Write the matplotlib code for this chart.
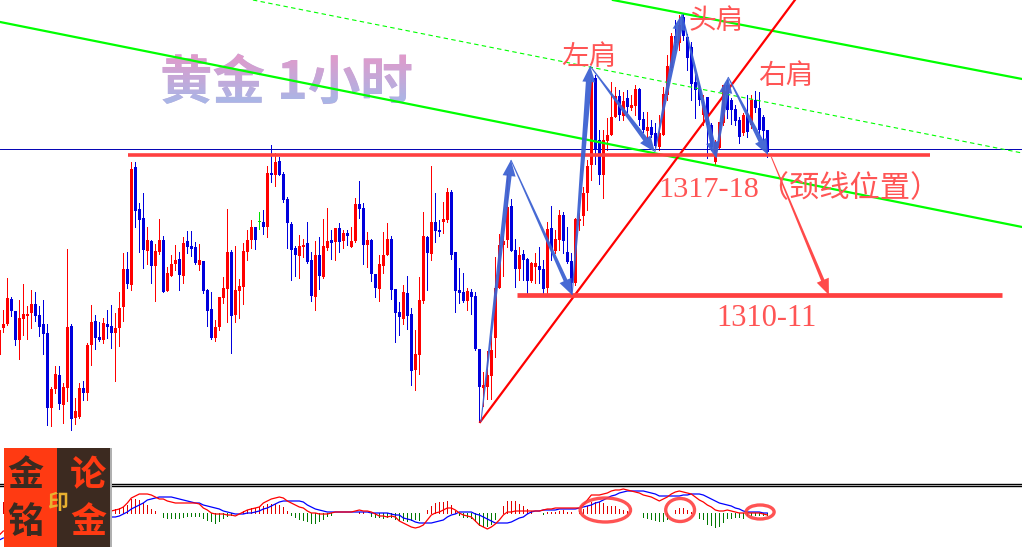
import numpy as np
import matplotlib
matplotlib.use('Agg')
import matplotlib.pyplot as plt
from matplotlib.font_manager import FontProperties
from matplotlib.patches import Ellipse, PathPatch, Polygon, Rectangle
from matplotlib.textpath import TextPath
from matplotlib.transforms import Affine2D

plt.rcParams['font.family'] = ['Noto Sans CJK SC', 'DejaVu Sans']

# gold 1h candles, price as ticks above 1300 (1 tick = 0.05)
opens = [
    150, 177, 181, 206, 194, 165, 186, 189, 192, 201,
    190, 181, 172, 97, 116, 130, 100, 117, 179, 87,
    88, 117, 112, 160, 184, 168, 165, 181, 179, 172,
    177, 198, 236, 220, 338, 296, 287, 254, 264, 239,
    253, 265, 214, 229, 241, 246, 229, 264, 259, 258,
    240, 244, 215, 196, 167, 178, 207, 216, 253, 190,
    214, 218, 253, 265, 278, 283, 283, 278, 332, 330,
    344, 331, 306, 281, 257, 249, 258, 262, 245, 208,
    250, 228, 257, 265, 263, 277, 264, 272, 258, 264,
    301, 297, 260, 265, 231, 216, 239, 250, 266, 216,
    193, 186, 212, 191, 135, 150, 204, 268, 251, 283,
    275, 283, 285, 313, 253, 215, 213, 204, 213, 209,
    156, 117, 118, 129, 167, 217, 260, 265, 299, 255,
    236, 251, 246, 224, 238, 239, 236, 217, 277, 254,
    265, 290, 253, 244, 222, 284, 289, 312, 340, 427,
    365, 330, 364, 370, 388, 409, 389, 407, 397, 399,
    416, 386, 374, 378, 372, 358, 370, 410, 437, 469,
    462, 488, 468, 458, 423, 416, 390, 408, 380, 343,
    357, 382, 420, 405, 396, 385, 372, 390, 380, 405,
    397, 388, 375,
]
closes = [
    175, 181, 207, 194, 165, 187, 191, 191, 201, 189,
    178, 171, 97, 116, 131, 101, 118, 178, 86, 94,
    117, 112, 160, 183, 167, 165, 182, 178, 172, 177,
    197, 236, 221, 336, 294, 285, 255, 265, 239, 254,
    265, 213, 232, 241, 245, 230, 262, 258, 256, 242,
    245, 214, 194, 167, 178, 208, 217, 253, 189, 215,
    219, 254, 265, 278, 265, 283, 278, 332, 330, 343,
    330, 305, 282, 255, 250, 259, 260, 243, 209, 250,
    229, 259, 264, 262, 277, 263, 272, 269, 264, 301,
    296, 260, 265, 231, 217, 241, 250, 266, 215, 192,
    188, 213, 189, 134, 151, 205, 269, 252, 283, 274,
    273, 286, 313, 250, 214, 212, 204, 214, 208, 156,
    118, 120, 130, 155, 217, 260, 264, 298, 254, 236,
    250, 245, 224, 242, 242, 235, 216, 276, 255, 266,
    290, 264, 243, 222, 286, 286, 312, 339, 423, 355,
    330, 365, 370, 388, 409, 390, 404, 398, 400, 416,
    385, 375, 378, 370, 359, 372, 411, 439, 469, 462,
    480, 469, 447, 421, 415, 405, 400, 380, 358, 363,
    383, 420, 395, 395, 384, 368, 390, 373, 405, 397,
    375, 374, 353,
]
highs = [
    178, 195, 227, 208, 194, 205, 221, 199, 215, 213,
    199, 205, 181, 118, 139, 139, 122, 256, 181, 107,
    122, 124, 162, 200, 190, 183, 187, 195, 200, 192,
    213, 252, 253, 343, 343, 302, 312, 278, 265, 261,
    286, 269, 238, 250, 260, 253, 268, 274, 274, 263,
    261, 244, 216, 213, 185, 208, 228, 296, 255, 259,
    226, 262, 275, 285, 278, 293, 295, 339, 360, 352,
    348, 333, 308, 283, 259, 270, 266, 283, 253, 264,
    268, 286, 297, 275, 277, 282, 275, 275, 278, 307,
    324, 302, 273, 266, 231, 250, 273, 282, 269, 216,
    203, 220, 229, 197, 175, 228, 293, 269, 339, 312,
    285, 303, 317, 315, 253, 237, 232, 217, 216, 213,
    156, 133, 154, 169, 248, 271, 269, 331, 306, 266,
    258, 255, 247, 243, 252, 258, 245, 283, 299, 275,
    295, 293, 278, 252, 287, 292, 318, 345, 425, 430,
    375, 375, 387, 423, 418, 415, 413, 415, 410, 420,
    417, 393, 393, 385, 382, 390, 418, 450, 472, 485,
    490, 491, 471, 463, 430, 420, 410, 408, 382, 365,
    383, 420, 425, 407, 400, 388, 392, 410, 410, 414,
    413, 390, 375,
]
lows = [
    120, 173, 180, 189, 160, 146, 170, 166, 177, 184,
    169, 151, 80, 79, 112, 96, 82, 104, 75, 81,
    87, 105, 105, 140, 156, 164, 162, 167, 157, 124,
    159, 184, 217, 215, 278, 253, 237, 241, 222, 204,
    251, 213, 214, 229, 235, 215, 222, 252, 249, 241,
    235, 212, 179, 166, 164, 175, 202, 183, 152, 183,
    187, 201, 245, 257, 256, 276, 271, 268, 323, 319,
    330, 303, 257, 225, 229, 227, 248, 242, 204, 195,
    216, 227, 255, 246, 245, 253, 257, 260, 258, 263,
    287, 241, 238, 224, 208, 204, 232, 250, 206, 163,
    170, 181, 176, 120, 115, 131, 202, 215, 245, 263,
    269, 272, 283, 246, 193, 202, 203, 195, 191, 155,
    83, 99, 106, 106, 148, 217, 229, 258, 254, 218,
    225, 225, 212, 223, 222, 222, 212, 212, 245, 252,
    255, 252, 242, 212, 220, 275, 280, 295, 325, 341,
    321, 307, 355, 370, 388, 385, 385, 393, 395, 390,
    380, 373, 367, 368, 358, 355, 370, 405, 435, 455,
    455, 465, 435, 405, 387, 400, 380, 347, 355, 341,
    357, 380, 387, 381, 380, 362, 370, 368, 377, 393,
    370, 365, 348,
]

# MACD panel, bars 2-27 sit behind the logo
nan = float('nan')
macd_hist = [0, 11] + [nan] * 26 + [
    3, 4, 5, 6, 8, 14, 14, 13, 10, 8, 4, 2,
    0, -4, -5, -5, -5, -5, -4, -3, -3, -3,
    -3, -5, -7, -8, -10, -8, -5, -3, -2, 0,
    0, 2, 3, 5, 5, 6, 7, 9, 9, 9,
    8, 6, 2, -2, -4, -6, -7, -8, -10, -10,
    -8, -6, -3, -2, 0, 0.5, 0.5, 0.5, 0.5, 0.5,
    1, 1, 0.5, -3, -4, -4, -5, -4, -4, -6,
    -7, -7, -8, -7, -6, -7, 0, 3, 7, 10,
    11, 11, 12, 8, 2, -2, -4, -4, -5, -8,
    -12, -13, -13, -11, -6, 0, 7, 12, 12, 12,
    9, 7, 4, 2, 0.5, 0, -1, 1, 1, 1,
    2, 3, 1, 1, 0, 2, 4, 7, 11, 11,
    11, 10, 7, 7, 7, 4, 3, 2, 0, 0.5,
    0.5, -4, -5, -6, -7, -8, -8, -6, 0.5, 3,
    5, 5, 3, 1, 0, -5, -6, -11, -12, -14,
    -13, -9, -5, -5, -4, -4, -5, -2, -2, -2, -2, -2, -2,
]
macd_fast = [-22, -18] + [nan] * 26 + [
    2, 3, 4, 6, 10, 15, 17, 19, 19, 19, 18, 16,
    14, 14, 12, 11, 10, 10, 10, 10, 10, 10,
    9, 5, 3, 0, -1, -1, -1, -2, -2, -3,
    -1, 1, 3, 4, 5, 6, 10, 12, 14, 15,
    16, 15, 12, 10, 8, 6, 5, 2, 0, 0,
    -1, -1, -1, 0, 1, 1, 1, 1, 1, 2,
    3, 2, 2, 1, -1, -3, -3, -4, -3, -4,
    -8, -10, -12, -14, -15, -14, -12, -7, -2, 0,
    1, 3, 5, 5, 3, 0, -2, -3, -4, -8,
    -12, -14, -16, -14, -11, -7, -2, 1, 1, 2,
    2, 2, 2, 2, 2, 2, 3, 4, 4, 5,
    5, 5, 5, 5, 5, 5, 8, 13, 18, 18,
    18, 19, 20, 22, 23, 23, 24, 23, 22, 21,
    20, 18, 17, 16, 14, 12, 14, 16, 19, 21,
    22, 21, 20, 19, 16, 13, 11, 8, 6, 3,
    2, 2, 3, 2, 1, 0, 0, 0, 0, 0, 0, -1, -2,
]
macd_slow = [-27, -25] + [nan] * 26 + [
    -4, -4, -3, -1, 1, 4, 6, 8, 10, 13, 14, 15,
    16, 16, 16, 16, 15, 14, 13, 12, 11, 10,
    10, 8, 7, 6, 5, 4, 2, 1, 0, -1,
    -1, -1, 0, 0, 1, 2, 4, 5, 7, 9,
    11, 12, 12, 12, 12, 12, 11, 8, 6, 4,
    3, 2, 1, 1, 1, 1, 1, 1, 1, 1,
    1, 1, 1, 0, 0, 0, 0, 0, -1, -2,
    -2, -5, -6, -7, -9, -10, -10, -10, -10, -9,
    -8, -7, -4, -2, -1, 1, 1, 1, 1, -1,
    -2, -4, -6, -8, -10, -10, -10, -10, -9, -7,
    -5, -4, -1, 1, 2, 2, 3, 3, 3, 3,
    4, 4, 4, 4, 4, 5, 6, 7, 8, 10,
    11, 13, 15, 17, 18, 20, 21, 22, 22, 22,
    22, 22, 21, 20, 19, 17, 17, 17, 17, 17,
    17, 18, 18, 19, 19, 19, 18, 16, 14, 12,
    10, 9, 8, 7, 5, 4, 2, 1, 1, 1, 1, 0, 0,
]

# hand drawn levels and trend lines (bar index, ticks)
neck_level = 350
neck_bars = [32.2, 232.7]
target_level = 210
target_bars = [129.4, 250.7]
cross_level = 356
channel_top = ([153.4, 255.7], [505, 426])
channel_mid = ([0.2, 255.7], [483, 278])
channel_dash = ([63.4, 255.7], [505, 352])
rise_line = ([120.2, 198.9], [83, 505])
zigzag_bars = [120.4, 127.9, 143.2, 147.7, 163.9, 170.7, 179.2, 182.2, 192.2]
zigzag_levels = [83, 345, 210, 439, 353, 491, 347, 428, 350]
zigzag_wide = [5.0, 4.0, 6.0, 5.0, 6.0, 5.0, 6.0, 5.0]
drop_bars = [193.0, 207.4]
drop_levels = [348, 210]

up_color = '#ff0000'
down_color = '#0000dc'
note_color = '#ff4040'
arrow_color = '#3d62d2'


def taper_arrow(ax, x0, y0, x1, y1, w_end, color, zorder=6):
    # thin tail to wide tip, worked out in pixels (one bar is 4 px wide)
    p0 = np.array([x0 * 4, y0], dtype=float)
    p1 = np.array([x1 * 4, y1], dtype=float)
    d = (p1 - p0) / np.hypot(*(p1 - p0))
    n = np.array([-d[1], d[0]])
    head_len = 16
    head_wide = 6.5
    neck = p1 - d * head_len
    pts = [p0 + n * 0.5, neck + n * w_end / 2, neck + n * head_wide, p1,
           neck - n * head_wide, neck - n * w_end / 2, p0 - n * 0.5]
    pts = [(p[0] / 4, p[1]) for p in pts]
    ax.add_patch(Polygon(pts, closed=True, fc=color, ec='none', alpha=0.95, zorder=zorder))


fig = plt.figure(figsize=(10.22, 5.48), dpi=100)
ax = fig.add_axes([0, 0, 1, 1])
ax.set_xlim(0.1675, 255.67)
ax.set_ylim(-43, 505)
ax.axis('off')

# title, gradient fill clipped to the glyph shapes
title = '黄金 1小时'
title_x, title_baseline = 160, 449
ax.text(title_x / 1022, title_baseline / 548, title, transform=ax.transAxes, fontsize=37.8,
        fontweight='bold', color='#c4a8d8', ha='left', va='baseline', zorder=1)
title_fp = FontProperties(family='Noto Sans CJK SC', weight='bold')
title_path = TextPath((0, 0), title, size=52.5, prop=title_fp)
title_clip = PathPatch(title_path, fc='none', ec='none',
                       transform=Affine2D().translate(title_x, title_baseline))
ramp = np.linspace(0, 1, 64)[:, None, None] * (np.array([0.65, 0.72, 0.91]) - np.array([0.89, 0.60, 0.79])) \
    + np.array([0.89, 0.60, 0.79])
grad = ax.imshow(ramp, extent=(38, 106, 400, 452), aspect='auto', zorder=1.5)
grad.set_clip_path(title_clip)
ax.set_xlim(0.1675, 255.67)
ax.set_ylim(-43, 505)

# candles
bars = np.arange(len(opens))
opens = np.array(opens)
closes = np.array(closes)
highs = np.array(highs)
lows = np.array(lows)
colors = np.where(closes > opens, up_color, down_color).astype(object)
colors[closes == opens] = '#00e000'
ax.vlines(bars, lows, highs, colors=list(colors), lw=0.7, antialiased=False, zorder=2)
tops = np.maximum(opens, closes)
bottoms = np.minimum(opens, closes)
ax.bar(bars, np.maximum(tops - bottoms, 1), bottom=bottoms, width=0.75, color=list(colors),
       antialiased=False, zorder=2.5)

# channel and levels
ax.axhline(cross_level, color='#0000b4', lw=0.7, zorder=2)
ax.plot(*channel_top, color='#00ff00', lw=1.6, zorder=3)
ax.plot(*channel_mid, color='#00ff00', lw=1.6, zorder=3)
ax.plot(*channel_dash, color='#00ff00', lw=0.8, dashes=(4, 3), zorder=3)
ax.plot(*rise_line, color='#ff0000', lw=1.6, zorder=4)
ax.hlines(neck_level, *neck_bars, color=note_color, lw=2.6, zorder=5)
ax.hlines(target_level, *target_bars, color=note_color, lw=3.4, zorder=5)

for i in range(len(zigzag_bars) - 1):
    taper_arrow(ax, zigzag_bars[i], zigzag_levels[i], zigzag_bars[i + 1], zigzag_levels[i + 1],
                zigzag_wide[i], arrow_color)
taper_arrow(ax, drop_bars[0], drop_levels[0], drop_bars[1], drop_levels[1], 3.5, note_color)

# notes
note_font = ['Liberation Serif', 'Noto Sans CJK SC']
for x, y, s, size in [(140.5, 447, '左肩', 20), (172.2, 483, '头肩', 20), (189.7, 428, '右肩', 20),
                      (164.8, 316, '1317-18（颈线位置）', 21.8), (179.2, 186, '1310-11', 22)]:
    ax.text(x, y, s, family=note_font, fontsize=size, color='#ff5555', ha='left', va='center', zorder=7)

# MACD panel on its own scale, zero line at y=513
ax_macd = fig.add_axes([0, 0, 1, 1])
ax_macd.set_xlim(0.1675, 255.67)
ax_macd.set_ylim(-35, 513)
ax_macd.axis('off')
ax_macd.patch.set_alpha(0)
ax_macd.axhline(29.5, color='black', lw=1.0)
ax_macd.axhline(27.3, color='black', lw=1.0)
hist = np.array(macd_hist)
hist_colors = np.where(hist >= 0, '#e00000', '#007800')
ax_macd.vlines(bars, 0, hist, colors=list(hist_colors), lw=0.7, antialiased=False)
ax_macd.plot(bars, macd_slow, color='#0000ff', lw=0.9)
ax_macd.plot(bars, macd_fast, color='#ff0000', lw=0.9)
for x, y, w, h in [(151.5, 3, 12.6, 24), (170.2, 3, 7.2, 23), (190.2, 1, 7.0, 14)]:
    ax_macd.add_patch(Ellipse((x, y), w, h, fc='none', ec=note_color, lw=2.4, alpha=0.9, zorder=5))

# logo block
ax_logo = fig.add_axes([4 / 1022, 1 / 548, 108 / 1022, 99 / 548])
ax_logo.set_xlim(0, 1)
ax_logo.set_ylim(0, 1)
ax_logo.axis('off')
ax_logo.add_patch(Rectangle((0, 0), 0.49, 1, fc='#ff3a12', ec='none'))
ax_logo.add_patch(Rectangle((0.49, 0), 0.49, 1, fc='#3c2a20', ec='none'))
ax_logo.add_patch(Rectangle((0.98, 0), 0.02, 1, fc='#b0b0b0', ec='none'))
for x, y, s, c in [(0.2, 0.72, '金', '#3a2a20'), (0.2, 0.25, '铭', '#3a2a20'),
                   (0.78, 0.72, '论', '#ff3a12'), (0.78, 0.25, '金', '#ff3a12')]:
    ax_logo.text(x, y, s, fontsize=26, fontweight='bold', color=c, ha='center', va='center')
ax_logo.text(0.5, 0.45, '印', fontsize=15, fontweight='bold', color='#e8b030', ha='center', va='center')

fig.savefig('out.png', dpi=100)
